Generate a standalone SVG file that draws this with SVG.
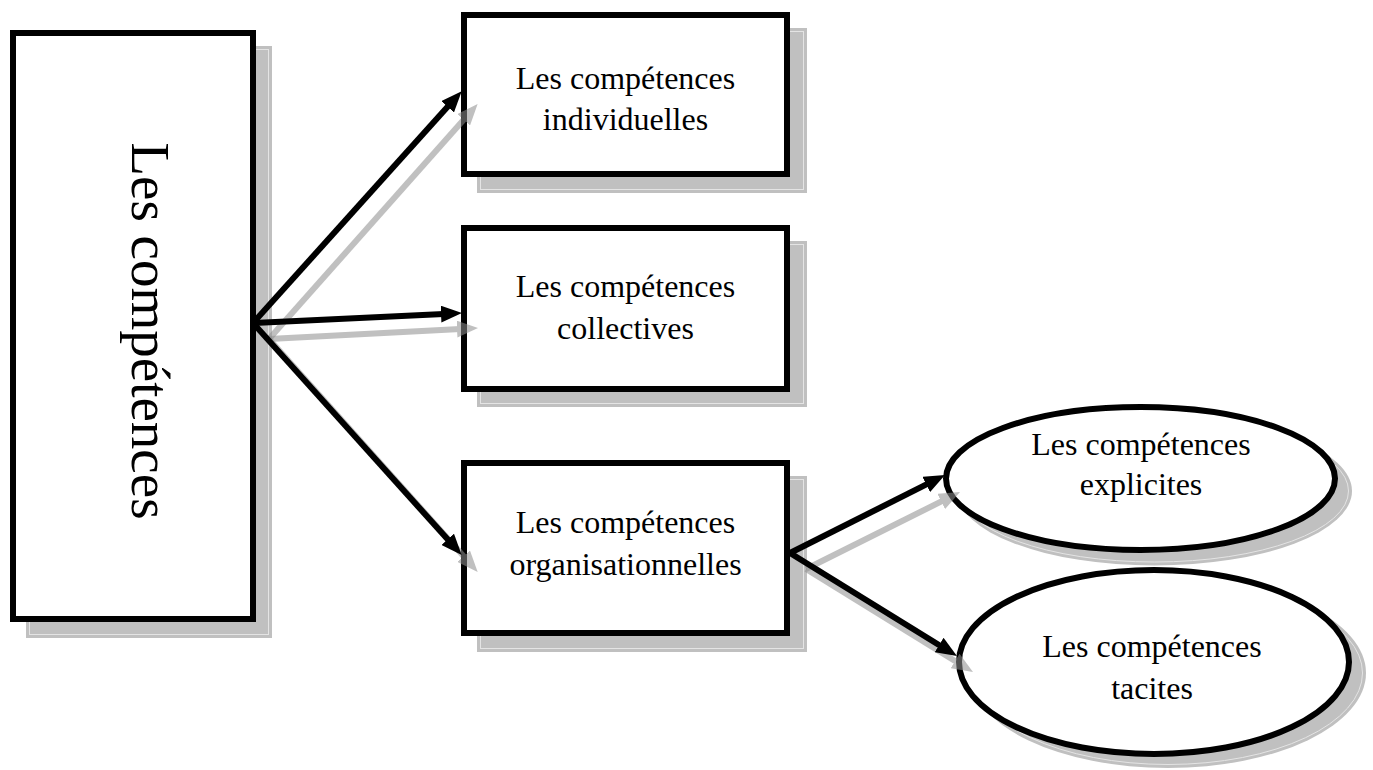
<svg xmlns="http://www.w3.org/2000/svg" width="1373" height="770" viewBox="0 0 1373 770">
  <style>
    .shadow { fill: #c0c0c0; }
    .shadow-edge { fill: none; stroke: #e4e4e4; stroke-width: 1; }
    .box { fill: #ffffff; stroke: #000000; stroke-width: 6; }
    .label { font-family: "Liberation Serif", "Times New Roman", serif; font-size: 32px; fill: #000000; text-anchor: middle; }
    .title { font-family: "Liberation Serif", "Times New Roman", serif; font-size: 55px; fill: #000000; text-anchor: middle; }
    .link { fill: none; stroke: #000000; stroke-width: 6; }
    .link-shadow { fill: none; stroke: #8f8f8f; stroke-width: 6; opacity: 0.56; }
  </style>
  <defs>
    <marker id="head" markerUnits="userSpaceOnUse" markerWidth="21" markerHeight="17" viewBox="0 0 21 17" refX="8" refY="8.5" orient="auto">
      <path d="M0,0 L21,8.5 L0,17 z" fill="#000000"/>
    </marker>
    <marker id="head-shadow" markerUnits="userSpaceOnUse" markerWidth="21" markerHeight="17" viewBox="0 0 21 17" refX="8" refY="8.5" orient="auto">
      <path d="M0,0 L21,8.5 L0,17 z" fill="#8f8f8f"/>
    </marker>
  </defs>

  <rect width="1373" height="770" fill="#ffffff"/>

  <!-- root: vertical title box -->
  <g id="competences">
    <rect class="shadow" x="26" y="46" width="246" height="592"/>
    <rect class="shadow-edge" x="29.5" y="49.5" width="239" height="585"/>
    <rect class="box" x="13" y="33" width="240" height="586"/>
    <text class="title" transform="translate(132,331) rotate(90)">Les compétences</text>
  </g>

  <!-- individual skills -->
  <g id="individuelles">
    <rect class="shadow" x="477" y="28" width="330" height="165"/>
    <rect class="shadow-edge" x="480.5" y="31.5" width="323" height="158"/>
    <rect class="box" x="464" y="15" width="323" height="159"/>
    <text class="label" x="625.5" y="89">Les compétences</text>
    <text class="label" x="625.5" y="130">individuelles</text>
  </g>

  <!-- collective skills -->
  <g id="collectives">
    <rect class="shadow" x="477" y="241" width="330" height="166"/>
    <rect class="shadow-edge" x="480.5" y="244.5" width="323" height="159"/>
    <rect class="box" x="464" y="228" width="323" height="161"/>
    <text class="label" x="625.5" y="297">Les compétences</text>
    <text class="label" x="625.5" y="339">collectives</text>
  </g>

  <!-- organisational skills -->
  <g id="organisationnelles">
    <rect class="shadow" x="477" y="476" width="330" height="176"/>
    <rect class="shadow-edge" x="480.5" y="479.5" width="323" height="169"/>
    <rect class="box" x="464" y="463" width="323" height="170"/>
    <text class="label" x="625.5" y="533">Les compétences</text>
    <text class="label" x="625.5" y="575">organisationnelles</text>
  </g>

  <!-- explicit skills -->
  <g id="explicites">
    <ellipse class="shadow" cx="1154.5" cy="491" rx="197.5" ry="74.5"/>
    <ellipse class="shadow-edge" cx="1154.5" cy="491" rx="194" ry="71"/>
    <ellipse class="box" cx="1140.5" cy="478.5" rx="194.5" ry="71.5"/>
    <text class="label" x="1141" y="455">Les compétences</text>
    <text class="label" x="1141" y="495">explicites</text>
  </g>

  <!-- tacit skills -->
  <g id="tacites">
    <ellipse class="shadow" cx="1168" cy="673" rx="198" ry="95"/>
    <ellipse class="shadow-edge" cx="1168" cy="673" rx="194.5" ry="91.5"/>
    <ellipse class="box" cx="1154" cy="662" rx="195" ry="92"/>
    <text class="label" x="1152" y="657">Les compétences</text>
    <text class="label" x="1152" y="699">tacites</text>
  </g>

  <!-- connectors: offset grey copies first, black arrows on top -->
  <g id="connectors">
    <path class="link-shadow" marker-end="url(#head-shadow)" d="M269,339 L469,113.8"/>
    <path class="link-shadow" marker-end="url(#head-shadow)" d="M269,339 L465,328.7"/>
    <path class="link-shadow" marker-end="url(#head-shadow)" d="M269,339 L469,562.2"/>
    <path class="link-shadow" marker-end="url(#head-shadow)" d="M806,569 L948.4,497.9"/>
    <path class="link-shadow" marker-end="url(#head-shadow)" d="M806,569 L961.9,665.2"/>

    <path class="link" marker-end="url(#head)" d="M253,323 L453,100.8"/>
    <path class="link" marker-end="url(#head)" d="M253,323 L449,313.7"/>
    <path class="link" marker-end="url(#head)" d="M253,323 L453,545.3"/>
    <path class="link" marker-end="url(#head)" d="M790,553 L933.4,480.9"/>
    <path class="link" marker-end="url(#head)" d="M790,553 L945.9,649.2"/>
  </g>
</svg>
